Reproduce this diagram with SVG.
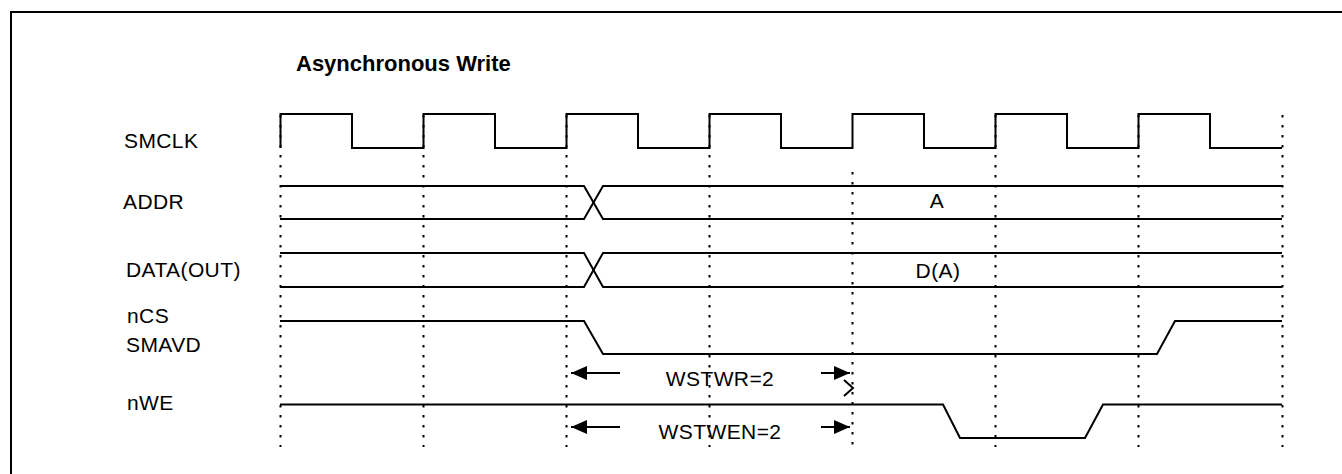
<svg xmlns="http://www.w3.org/2000/svg" width="1342" height="474" viewBox="0 0 1342 474">
<style>
.sig{fill:none;stroke:#000;stroke-width:2;stroke-linejoin:miter}
.dot{fill:none;stroke:#000;stroke-width:2;stroke-dasharray:2.5 7.5}
.lbl{font-family:"Liberation Sans",Arial,sans-serif;font-size:21px;fill:#000;letter-spacing:0.4px}
.ttl{font-family:"Liberation Sans",Arial,sans-serif;font-size:22px;font-weight:bold;fill:#000}
.arr{fill:none;stroke:#000;stroke-width:2}
</style>
<defs>
<marker id="ah" markerUnits="userSpaceOnUse" markerWidth="18" markerHeight="16" refX="16" refY="7" orient="auto">
<path d="M0,0 L16,7 L0,14 Z" fill="#000"/>
</marker>
</defs>
<rect x="0" y="0" width="1342" height="474" fill="#fff"/>
<rect id="frame" x="11" y="12" width="1400" height="500" fill="none" stroke="#000" stroke-width="2"/>
<text id="title" class="ttl" x="296" y="71">Asynchronous Write</text>

<g id="gridlines">
<line class="dot" x1="280.5" y1="115" x2="280.5" y2="447"/>
<line class="dot" x1="423.5" y1="115" x2="423.5" y2="447"/>
<line class="dot" x1="566.5" y1="115" x2="566.5" y2="447"/>
<line class="dot" x1="709.5" y1="115" x2="709.5" y2="447"/>
<line class="dot" x1="852.5" y1="172" x2="852.5" y2="452"/>
<line class="dot" x1="995.5" y1="115" x2="995.5" y2="447"/>
<line class="dot" x1="1138.5" y1="115" x2="1138.5" y2="447"/>
<line class="dot" x1="1282.5" y1="115" x2="1282.5" y2="447"/>
</g>

<g id="smclk">
<text class="lbl" x="124" y="148">SMCLK</text>
<polyline class="sig" points="280.5,148 280.5,114 352,114 352,148 423.5,148 423.5,114 495,114 495,148 566.5,148 566.5,114 638,114 638,148 709.5,148 709.5,114 781,114 781,148 852.5,148 852.5,114 924,114 924,148 995.5,148 995.5,114 1067,114 1067,148 1138.5,148 1138.5,114 1210,114 1210,148 1282,148"/>
</g>

<g id="addr">
<text class="lbl" x="123" y="209">ADDR</text>
<polyline class="sig" points="280,186 584,186 603,219 1282,219"/>
<polyline class="sig" points="280,219 584,219 603,186 1282,186"/>
<text class="lbl" x="937" y="208" text-anchor="middle">A</text>
</g>

<g id="data">
<text class="lbl" x="126" y="277">DATA(OUT)</text>
<polyline class="sig" points="280,253 584,253 603,287 1282,287"/>
<polyline class="sig" points="280,287 584,287 603,253 1282,253"/>
<text class="lbl" x="938" y="278" text-anchor="middle">D(A)</text>
</g>

<g id="ncs">
<text class="lbl" x="127" y="323">nCS</text>
<text class="lbl" x="126" y="352">SMAVD</text>
<polyline class="sig" points="280,321 584,321 603,354 1157,354 1175,321 1282,321"/>
</g>

<g id="nwe">
<text class="lbl" x="127" y="410">nWE</text>
<polyline class="sig" points="280,404.5 943,404.5 960,438 1085,438 1103,404.5 1282,404.5"/>
</g>

<g id="connectors">
<line class="arr" x1="620" y1="373" x2="571" y2="373" marker-end="url(#ah)"/>
<line class="arr" x1="821" y1="373" x2="850" y2="373" marker-end="url(#ah)"/>
<polyline class="arr" points="844,380 853,388 844,396"/>
<line class="arr" x1="620" y1="427" x2="571" y2="427" marker-end="url(#ah)"/>
<line class="arr" x1="821" y1="427" x2="850" y2="427" marker-end="url(#ah)"/>
</g>
<g id="timing-labels">
<text class="lbl" x="720" y="386" text-anchor="middle">WSTWR=2</text>
<text class="lbl" x="720" y="439" text-anchor="middle">WSTWEN=2</text>
</g>
</svg>
